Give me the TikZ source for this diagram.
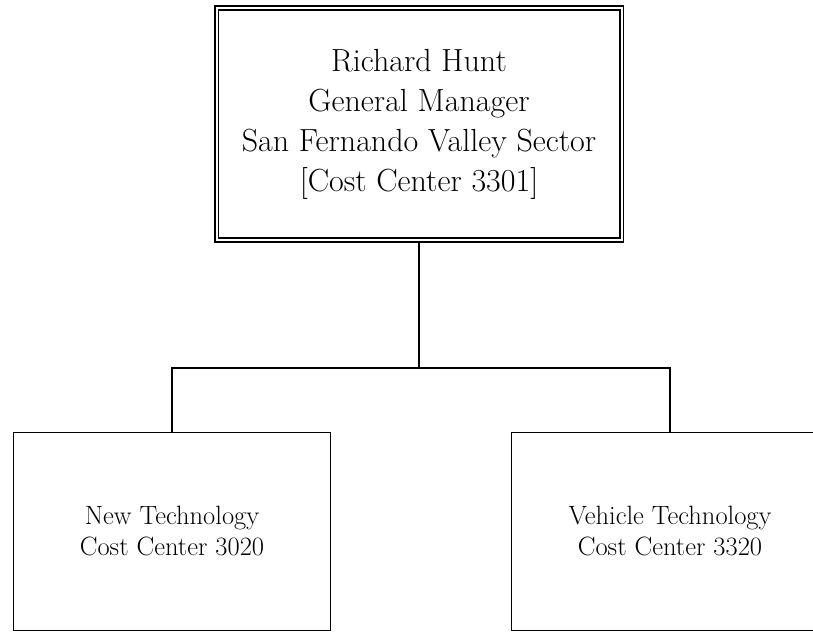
\documentclass[tikz,border=0pt]{standalone}
\usetikzlibrary{positioning}

\begin{document}
\begin{tikzpicture}[x=1pt, y=-1pt, line width=1.8pt,
  unit/.style={draw, rectangle, align=center, inner sep=0pt,
    minimum width=317pt, minimum height=198pt,
    font=\fontsize{26.5}{31}\selectfont}]
  \useasboundingbox (0,0) rectangle (813,632);
  % sector head
  \node[draw, double, double distance=2pt, line width=1.6pt, rectangle, align=center,
    inner sep=0pt, minimum width=405pt, minimum height=232pt,
    font=\fontsize{32}{40}\selectfont] (head) at (419,124)
    {Richard Hunt\\General Manager\\San Fernando Valley Sector\\{[}Cost Center 3301{]}};
  % cost centers
  \node[unit] (newtech) at (172,531.5) {New Technology\\Cost Center 3020};
  \node[unit] (vehtech) at (670,531.5) {Vehicle Technology\\Cost Center 3320};
  % links
  \draw (head.south) -- ++(0,127) coordinate (split);
  \draw (newtech.north) |- (split) -| (vehtech.north);
\end{tikzpicture}
\end{document}
